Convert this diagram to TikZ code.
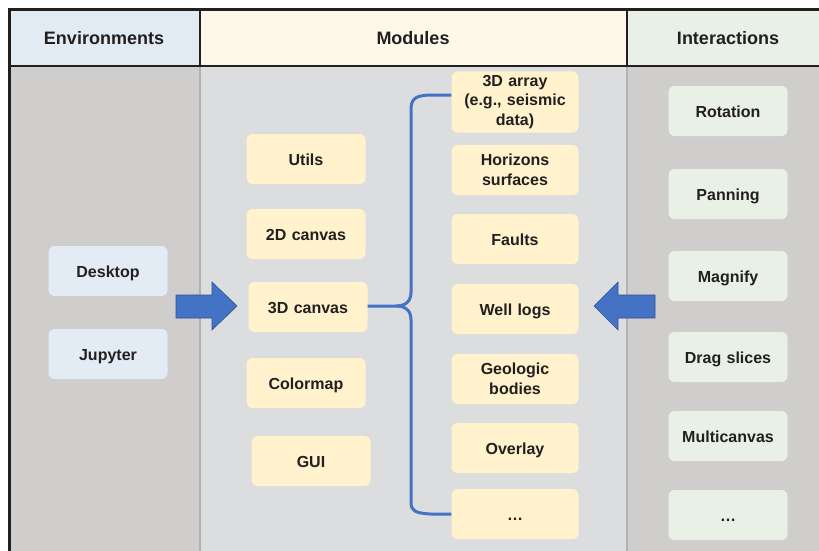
\documentclass[tikz,border=0pt]{standalone}
\usepackage{fontspec}
\setmainfont{Liberation Sans}
\usetikzlibrary{calc}
\definecolor{frame}{RGB}{35,31,32}
\definecolor{hdrenv}{RGB}{226,234,243}
\definecolor{hdrmod}{RGB}{252,249,235}
\definecolor{hdrint}{RGB}{232,240,231}
\definecolor{colside}{RGB}{208,206,205}
\definecolor{colmid}{RGB}{220,221,223}
\definecolor{envbox}{RGB}{227,235,245}
\definecolor{modbox}{RGB}{255,242,204}
\definecolor{intbox}{RGB}{233,241,231}
\definecolor{bluearr}{RGB}{68,114,196}
\definecolor{bluedge}{RGB}{47,82,143}
\definecolor{divgrey}{RGB}{178,178,178}
\begin{document}
\begin{tikzpicture}[x=1pt,y=-1pt,
  hdrtext/.style={font=\bfseries\fontsize{18}{21}\selectfont, text=frame},
  box/.style={rounded corners=6pt, inner sep=0pt, text width=#1, align=center,
    minimum height=50pt, font=\bfseries\fontsize{16}{19.5}\selectfont, text=frame},
  oneline/.style={text height=12pt, text depth=0pt},
  envnode/.style={box=119pt, fill=envbox, oneline},
  modnode/.style={box=119pt, fill=modbox, oneline},
  modnodeR/.style={box=127pt, fill=modbox},
  intnode/.style={box=119pt, fill=intbox, oneline},
  brace/.style={draw=bluearr, line width=3pt},
  blockarrow/.style={fill=bluearr, draw=bluedge, line width=0.6pt}
]
\useasboundingbox (0,0) rectangle (819,551);
% column backgrounds
\fill[hdrenv] (9,10) rectangle (200,66);
\fill[hdrmod] (200,10) rectangle (627,66);
\fill[hdrint] (627,10) rectangle (819,66);
\fill[colside] (9,66) rectangle (200,551);
\fill[colmid] (200,66) rectangle (627,551);
\fill[colside] (627,66) rectangle (819,551);
\draw[divgrey, line width=1.2pt] (200,66) -- (200,551);
\draw[divgrey, line width=1.2pt] (627,66) -- (627,551);
% frame
\draw[frame, line width=3pt] (819,10) -- (9,10) -- (9,551);
\draw[frame, line width=2.5pt] (9,66) -- (819,66);
\draw[frame, line width=2.5pt] (200,10) -- (200,66);
\draw[frame, line width=2.5pt] (627,10) -- (627,66);
% headers
\node[hdrtext] (henv) at (104,38) {Environments};
\node[hdrtext] (hmod) at (413,38) {Modules};
\node[hdrtext] (hint) at (728,38) {Interactions};
% environments
\node[envnode] (desktop) at (108,271) {Desktop};
\node[envnode] (jupyter) at (108,354) {Jupyter};
% modules left
\node[modnode] (utils) at (306,159) {Utils};
\node[modnode] (c2d) at (306,234) {2D canvas};
\node[modnode] (c3d) at (308,307) {3D canvas};
\node[modnode] (cmap) at (306,383) {Colormap};
\node[modnode] (gui) at (311,461) {GUI};
% modules right
\node[modnodeR, minimum height=61pt] (arr) at (515,102) {3D array\\(e.g., seismic\\data)};
\node[modnodeR] (hor) at (515,170) {Horizons\\surfaces};
\node[modnodeR, oneline] (faults) at (515,239) {Faults};
\node[modnodeR, oneline] (well) at (515,309) {Well logs};
\node[modnodeR] (geo) at (515,379) {Geologic\\bodies};
\node[modnodeR, oneline] (over) at (515,448) {Overlay};
\node[modnodeR, oneline] (metc) at (515,514) {\dots};
% interactions
\node[intnode] (rot) at (728,111) {Rotation};
\node[intnode] (pan) at (728,194) {Panning};
\node[intnode] (mag) at (728,276) {Magnify};
\node[intnode] (drag) at (728,357) {Drag slices};
\node[intnode] (multi) at (728,436) {Multicanvas};
\node[intnode] (ietc) at (728,515) {\dots};
% brace
\coordinate (cusp) at (396,306);
\draw[brace] (c3d.east |- cusp) -- (cusp) .. controls (405,306) and (411,302) .. (411,292)
  -- (411,110) .. controls (411,99) and (415,96) .. (428,95) -- ([yshift=7pt]arr.west);
\draw[brace] (cusp) .. controls (405,306) and (411,310) .. (411,320)
  -- (411,502) .. controls (411,511) and (415,513) .. (430,514) -- (metc.west);
% block arrows
\draw[blockarrow] (176,295) -- (212,295) -- (212,282) -- (237,306) -- (212,330) -- (212,318) -- (176,318) -- cycle;
\draw[blockarrow] (655,295) -- (618,295) -- (618,282) -- (594,306) -- (618,330) -- (618,318) -- (655,318) -- cycle;
\end{tikzpicture}
\end{document}
